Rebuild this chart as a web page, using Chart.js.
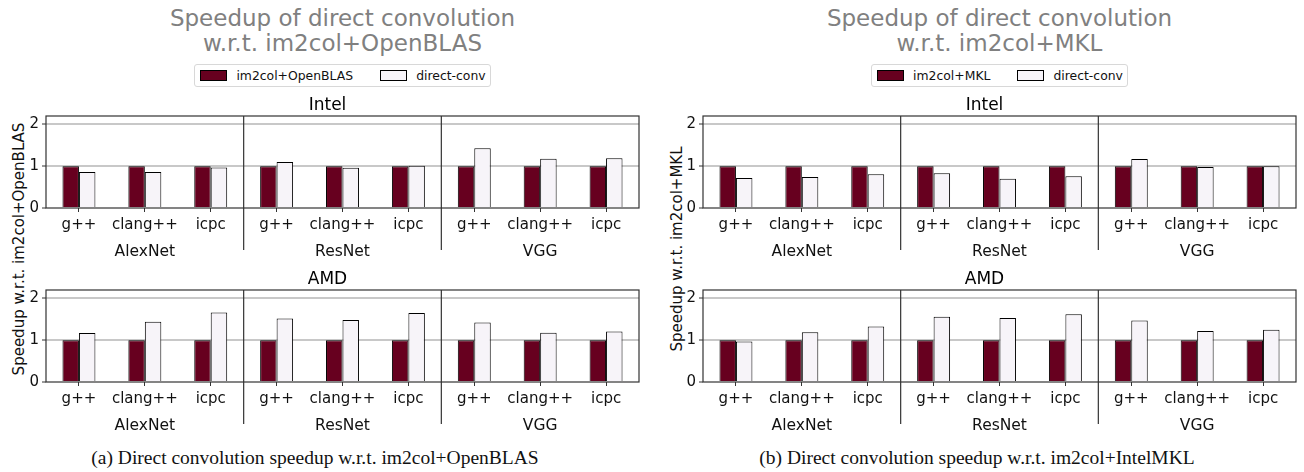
<!DOCTYPE html>
<html>
<head>
<meta charset="utf-8">
<script src="https://cdn.jsdelivr.net/npm/chart.js@4"></script>
<style>
    body { margin: 0; width: 1304px; height: 472px; position: relative; background: #fff; font-family: 'DejaVu Sans', sans-serif; overflow: hidden; }
    canvas { position: absolute; }
    .titulo { position: absolute; top: 6px; width: 593px; text-align: center; font-size: 23px; line-height: 25px; color: #808080; }
    .legenda { position: absolute; top: 64px; width: 593px; display: flex; justify-content: center; }
    .legenda .caixa { display: flex; align-items: center; height: 21px; padding: 0 4px 0 5px; border: 1px solid #d8d8d8; border-radius: 3px; font-size: 12.4px; color: #111; }
    .legenda .patch { width: 25px; height: 9px; border: 1px solid #000; margin-right: 9px; }
    .legenda .item + .item { margin-left: 27px; }
    .legenda .item { display: flex; align-items: center; }
    .rotulo-y { position: absolute; top: 249px; font-size: 15px; color: #111; white-space: nowrap; transform: translate(-50%, -50%) rotate(-90deg); }
    .legenda-fig { position: absolute; top: 447px; font-family: 'Liberation Serif', serif; font-size: 19.5px; color: #111; white-space: nowrap; transform: translateX(-50%); }
</style>
</head>
<body>
<div class="titulo" style="left:46px">Speedup of direct convolution<br>w.r.t. im2col+OpenBLAS</div>
<div class="titulo" style="left:703px">Speedup of direct convolution<br>w.r.t. im2col+MKL</div>
<div class="legenda" style="left:46px" id="leg1"></div>
<div class="legenda" style="left:703px" id="leg2"></div>
<div class="rotulo-y" style="left:19px">Speedup w.r.t. im2col+OpenBLAS</div>
<div class="rotulo-y" style="left:677px">Speedup w.r.t. im2col+MKL</div>

<canvas id="intelBlas" width="628" height="173" style="left:16px;top:92px"></canvas>
<canvas id="amdBlas" width="628" height="173" style="left:16px;top:266px"></canvas>
<canvas id="intelMkl" width="628" height="173" style="left:673px;top:92px"></canvas>
<canvas id="amdMkl" width="628" height="173" style="left:673px;top:266px"></canvas>

<div class="legenda-fig" style="left:315px">(a) Direct convolution speedup w.r.t. im2col+OpenBLAS</div>
<div class="legenda-fig" style="left:977px">(b) Direct convolution speedup w.r.t. im2col+IntelMKL</div>

<script>
const compilers = ['g++', 'clang++', 'icpc'];
const networks = ['AlexNet', 'ResNet', 'VGG'];
const yTicks = [0, 1, 2];

// baseline (im2col) is always 1
const baseline = [1, 1, 1, 1, 1, 1, 1, 1, 1];
const intelBlasDirect = [0.86, 0.86, 0.97, 1.10, 0.96, 1.01, 1.43, 1.18, 1.19];
const amdBlasDirect = [1.17, 1.44, 1.66, 1.52, 1.48, 1.65, 1.42, 1.18, 1.21];
const intelMklDirect = [0.72, 0.74, 0.81, 0.83, 0.70, 0.76, 1.17, 0.98, 1.00];
const amdMklDirect = [0.97, 1.19, 1.33, 1.56, 1.53, 1.62, 1.47, 1.22, 1.25];

const corBase = '#67001f';
const corDireto = '#f7f4f9';

Chart.defaults.font.family = "'DejaVu Sans', sans-serif";

// frame around the plot + separators between the networks
const moldura = {
    id: 'moldura',
    afterDraw(chart) {
        const { ctx, chartArea: a, scales } = chart;
        ctx.save();
        ctx.strokeStyle = '#333';
        ctx.lineWidth = 1.2;
        ctx.strokeRect(a.left, a.top, a.width, a.height);
        for (let g = 1; g < networks.length; g++) {
            const i = g * compilers.length;
            const px = (scales.x.getPixelForValue(i - 1) + scales.x.getPixelForValue(i)) / 2;
            ctx.beginPath();
            ctx.moveTo(px, a.top);
            ctx.lineTo(px, a.bottom + 42);
            ctx.stroke();
        }
        ctx.restore();
    }
};

function montarLegenda(id, nomeBase) {
    const el = document.getElementById(id);
    el.innerHTML = `<div class="caixa">
        <div class="item"><div class="patch" style="background:${corBase}"></div>${nomeBase}</div>
        <div class="item"><div class="patch" style="background:${corDireto}"></div>direct-conv</div>
    </div>`;
}

function desenharPainel(id, titulo, nomeBase, direto) {
    const labels = networks.flatMap(() => compilers);
    new Chart(document.getElementById(id), {
        type: 'bar',
        data: {
            labels,
            datasets: [{
                label: nomeBase,
                data: baseline,
                backgroundColor: corBase,
                borderColor: '#000',
                borderWidth: 1
            }, {
                label: 'direct-conv',
                data: direto,
                backgroundColor: corDireto,
                borderColor: '#000',
                borderWidth: 1
            }]
        },
        options: {
            responsive: false,
            animation: false,
            datasets: { bar: { categoryPercentage: 0.5, barPercentage: 1 } },
            layout: { padding: { right: 5 } },
            plugins: {
                legend: { display: false },
                tooltip: { enabled: false },
                title: {
                    display: true,
                    text: titulo,
                    color: '#000',
                    font: { size: 17, weight: 'normal' },
                    padding: { top: 3.5, bottom: 0.1 }
                }
            },
            scales: {
                x: {
                    weight: 1,
                    offset: true,
                    grid: { offset: false, drawOnChartArea: false, tickLength: 4, color: '#333' },
                    border: { display: false },
                    ticks: { font: { size: 15 }, color: '#111', padding: 4, maxRotation: 0, autoSkip: false },
                    afterFit: s => { s.height = 27; }
                },
                grupo: {
                    type: 'category',
                    axis: 'x',
                    position: 'bottom',
                    weight: 2,
                    labels: networks,
                    offset: true,
                    grid: { display: false },
                    border: { display: false },
                    ticks: { font: { size: 15.5 }, color: '#111', padding: 0 },
                    afterFit: s => { s.height = 30; }
                },
                y: {
                    min: 0,
                    max: 2.2,
                    afterBuildTicks: s => { s.ticks = yTicks.map(v => ({ value: v })); },
                    grid: {
                        color: c => (c.tick && c.tick.value === 0) ? 'rgba(0,0,0,0)' : '#c8c8c8',
                        lineWidth: 2,
                        tickColor: '#333',
                        tickWidth: 1,
                        tickLength: 4
                    },
                    border: { display: false },
                    ticks: { font: { size: 15 }, color: '#111', padding: 3 },
                    afterFit: s => { s.width = 30; }
                }
            }
        },
        plugins: [moldura]
    });
}

montarLegenda('leg1', 'im2col+OpenBLAS');
montarLegenda('leg2', 'im2col+MKL');
desenharPainel('intelBlas', 'Intel', 'im2col+OpenBLAS', intelBlasDirect);
desenharPainel('amdBlas', 'AMD', 'im2col+OpenBLAS', amdBlasDirect);
desenharPainel('intelMkl', 'Intel', 'im2col+MKL', intelMklDirect);
desenharPainel('amdMkl', 'AMD', 'im2col+MKL', amdMklDirect);
</script>
</body>
</html>
